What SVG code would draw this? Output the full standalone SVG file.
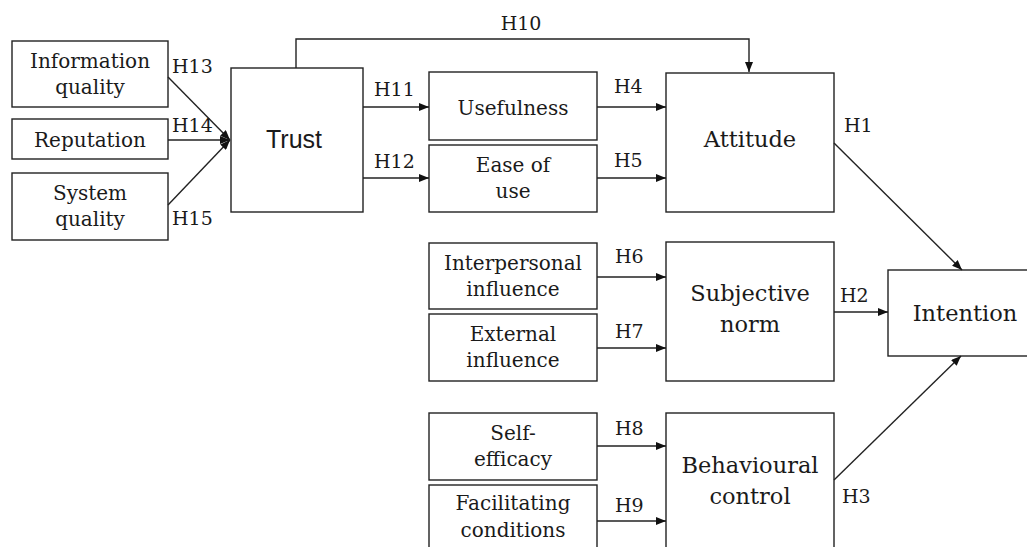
<svg xmlns="http://www.w3.org/2000/svg" width="1027" height="547" viewBox="0 0 1027 547">
  <style>
    .box { fill: #fff; stroke: #222; stroke-width: 1.4; }
    .t { font-family: "DejaVu Serif", "Liberation Serif", serif; font-size: 20px; fill: #1a1a1a; text-anchor: middle; }
    .big { font-family: "DejaVu Serif", "Liberation Serif", serif; font-size: 22.5px; fill: #1a1a1a; text-anchor: middle; }
    .sans { font-family: "Liberation Sans", Arial, sans-serif; font-size: 25px; fill: #1a1a1a; text-anchor: middle; }
    .h { font-family: "DejaVu Serif", "Liberation Serif", serif; font-size: 19px; fill: #1a1a1a; }
    .c { fill: none; stroke: #222; stroke-width: 1.4; }
  </style>
  <defs>
    <marker id="arr" markerUnits="userSpaceOnUse" markerWidth="10" markerHeight="8" refX="10" refY="4" orient="auto">
      <path d="M0,0 L10,4 L0,8 z" fill="#111"/>
    </marker>
  </defs>
  <rect width="1027" height="547" fill="#fff"/>

  <!-- antecedents of trust -->
  <g id="information-quality">
    <rect class="box" x="12" y="41" width="156" height="66"/>
    <text class="t" x="90" y="68">Information</text>
    <text class="t" x="90" y="94">quality</text>
  </g>
  <g id="reputation">
    <rect class="box" x="12" y="119" width="156" height="40"/>
    <text class="t" x="90" y="147">Reputation</text>
  </g>
  <g id="system-quality">
    <rect class="box" x="12" y="173" width="156" height="67"/>
    <text class="t" x="90" y="200">System</text>
    <text class="t" x="90" y="226">quality</text>
  </g>

  <g id="trust">
    <rect class="box" x="231" y="68" width="132" height="144"/>
    <text class="sans" x="294" y="148">Trust</text>
  </g>

  <g id="usefulness">
    <rect class="box" x="429" y="72" width="168" height="68"/>
    <text class="t" x="513" y="115">Usefulness</text>
  </g>
  <g id="ease-of-use">
    <rect class="box" x="429" y="145" width="168" height="67"/>
    <text class="t" x="513" y="172">Ease of</text>
    <text class="t" x="513" y="198">use</text>
  </g>

  <g id="interpersonal-influence">
    <rect class="box" x="429" y="243" width="168" height="66"/>
    <text class="t" x="513" y="270">Interpersonal</text>
    <text class="t" x="513" y="296">influence</text>
  </g>
  <g id="external-influence">
    <rect class="box" x="429" y="314" width="168" height="67"/>
    <text class="t" x="513" y="341">External</text>
    <text class="t" x="513" y="367">influence</text>
  </g>

  <g id="self-efficacy">
    <rect class="box" x="429" y="413" width="168" height="67"/>
    <text class="t" x="513" y="440">Self-</text>
    <text class="t" x="513" y="466">efficacy</text>
  </g>
  <g id="facilitating-conditions">
    <rect class="box" x="429" y="485" width="168" height="66"/>
    <text class="t" x="513" y="510">Facilitating</text>
    <text class="t" x="513" y="537">conditions</text>
  </g>

  <!-- core constructs -->
  <g id="attitude">
    <rect class="box" x="666" y="73" width="168" height="139"/>
    <text class="big" x="750" y="147">Attitude</text>
  </g>
  <g id="subjective-norm">
    <rect class="box" x="666" y="242" width="168" height="139"/>
    <text class="big" x="750" y="301">Subjective</text>
    <text class="big" x="750" y="332">norm</text>
  </g>
  <g id="behavioural-control">
    <rect class="box" x="666" y="413" width="168" height="140"/>
    <text class="big" x="750" y="473">Behavioural</text>
    <text class="big" x="750" y="504">control</text>
  </g>
  <g id="intention">
    <rect class="box" x="888" y="270" width="150" height="86"/>
    <text class="big" x="965" y="321">Intention</text>
  </g>

  <!-- hypothesised paths -->
  <g id="connectors">
    <line class="c" x1="168" y1="77" x2="230" y2="140" marker-end="url(#arr)"/>
    <line class="c" x1="168" y1="140" x2="230" y2="140" marker-end="url(#arr)"/>
    <line class="c" x1="168" y1="205" x2="230" y2="140" marker-end="url(#arr)"/>
    <polyline class="c" points="296,68 296,39 749,39 749,72" marker-end="url(#arr)"/>
    <line class="c" x1="363" y1="107" x2="429" y2="107" marker-end="url(#arr)"/>
    <line class="c" x1="363" y1="178" x2="429" y2="178" marker-end="url(#arr)"/>
    <line class="c" x1="597" y1="107" x2="666" y2="107" marker-end="url(#arr)"/>
    <line class="c" x1="597" y1="178" x2="666" y2="178" marker-end="url(#arr)"/>
    <line class="c" x1="597" y1="277" x2="666" y2="277" marker-end="url(#arr)"/>
    <line class="c" x1="597" y1="348" x2="666" y2="348" marker-end="url(#arr)"/>
    <line class="c" x1="597" y1="446" x2="666" y2="446" marker-end="url(#arr)"/>
    <line class="c" x1="597" y1="521" x2="666" y2="521" marker-end="url(#arr)"/>
    <line class="c" x1="834" y1="143" x2="962" y2="270" marker-end="url(#arr)"/>
    <line class="c" x1="834" y1="312" x2="888" y2="312" marker-end="url(#arr)"/>
    <line class="c" x1="834" y1="480" x2="961" y2="356" marker-end="url(#arr)"/>
  </g>

  <!-- hypothesis labels -->
  <g id="labels">
    <text class="h" x="172" y="73">H13</text>
    <text class="h" x="172" y="132">H14</text>
    <text class="h" x="172" y="225">H15</text>
    <text class="h" x="521" y="30" text-anchor="middle">H10</text>
    <text class="h" x="374" y="96">H11</text>
    <text class="h" x="374" y="168">H12</text>
    <text class="h" x="614" y="93">H4</text>
    <text class="h" x="614" y="167">H5</text>
    <text class="h" x="615" y="263">H6</text>
    <text class="h" x="615" y="338">H7</text>
    <text class="h" x="615" y="435">H8</text>
    <text class="h" x="615" y="512">H9</text>
    <text class="h" x="844" y="132">H1</text>
    <text class="h" x="840" y="302">H2</text>
    <text class="h" x="842" y="503">H3</text>
  </g>
</svg>
